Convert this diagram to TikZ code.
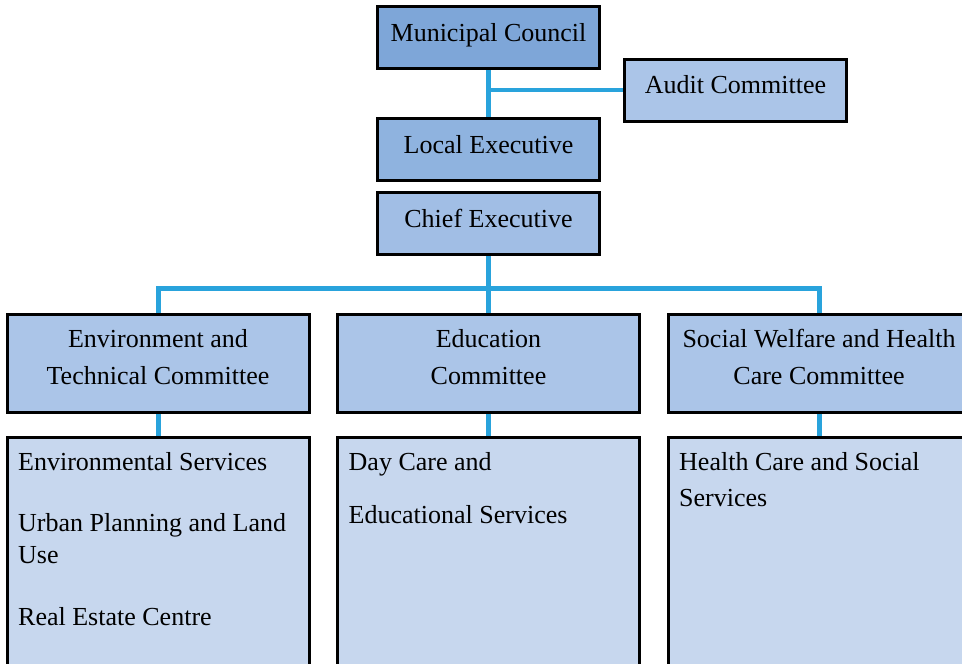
\documentclass[tikz,border=0pt]{standalone}
\usepackage{fontspec}
\setmainfont{Liberation Serif}
\usetikzlibrary{backgrounds}
\definecolor{councilblue}{HTML}{7EA6D8}
\definecolor{execblue}{HTML}{8FB3DF}
\definecolor{chiefblue}{HTML}{A1BEE5}
\definecolor{commblue}{HTML}{ABC5E8}
\definecolor{serviceblue}{HTML}{C7D7EE}
\definecolor{linkblue}{HTML}{29A3DC}
\tikzset{
  orgbox/.style={draw=black, line width=3pt, rectangle, inner sep=0pt, outer sep=0pt,
    font=\fontsize{26}{32}\selectfont},
  topbox/.style={orgbox, minimum width=222pt, minimum height=62pt,
    text height=18pt, text depth=11pt},
  commbox/.style={orgbox, fill=commblue, minimum width=302pt, minimum height=98pt,
    align=center, font=\fontsize{26}{37}\selectfont, text depth=12pt},
  servicebox/.style={orgbox, fill=serviceblue, anchor=north west,
    minimum width=302pt, minimum height=300pt},
  servicetext/.style={anchor=north west, inner sep=0pt, align=left,
    font=\fontsize{26}{32}\selectfont},
  link/.style={draw=linkblue, line width=5pt},
}
\begin{document}
\begin{tikzpicture}[x=1pt,y=-1pt]
    \useasboundingbox (0,0) rectangle (962,664);
    % top of the chart
    \node[topbox, fill=councilblue] (council) at (488.5,37.5) {Municipal Council};
    \node[topbox, fill=commblue] (audit) at (735.5,90) {Audit Committee};
    \node[topbox, fill=execblue] (localexec) at (488.5,149.5) {Local Executive};
    \node[topbox, fill=chiefblue] (chief) at (488.5,223.5) {Chief Executive};
    % committees
    \node[commbox] (envcomm) at (158,363) {Environment and\\Technical Committee};
    \node[commbox] (educomm) at (488.5,363) {Education\\Committee};
    \node[commbox] (soccomm) at (819,363) {Social Welfare and Health\\Care Committee};
    % services
    \node[servicebox] (envserv) at (7,437.5) {};
    \node[servicebox] (eduserv) at (337.5,437.5) {};
    \node[servicebox] (socserv) at (668,437.5) {};
    \node[servicetext] (envlist) at ([shift={(11,15)}]envserv.north west)
      {Environmental Services\\[29pt]Urban Planning and Land\\Use\\[30pt]Real Estate Centre};
    \node[servicetext] (edulist) at ([shift={(11,15)}]eduserv.north west)
      {Day Care and\\[21pt]Educational Services};
    \node[servicetext] (soclist) at ([shift={(11,15)}]socserv.north west)
      {Health Care and Social\\[4pt]Services};
    % lines between boxes
    \begin{pgfonlayer}{background}
      \draw[link] (council.south) -- (localexec.north);
      \draw[link, line width=4pt] (audit.west) -- (audit.west -| council.south);
      \draw[link] (chief.south) -- (educomm.north);
      \draw[link] (envcomm.north) -- ++(0,-26) -| (soccomm.north);
      \draw[link] (envcomm.south) -- (envserv.north);
      \draw[link] (educomm.south) -- (eduserv.north);
      \draw[link] (soccomm.south) -- (socserv.north);
    \end{pgfonlayer}
\end{tikzpicture}
\end{document}
